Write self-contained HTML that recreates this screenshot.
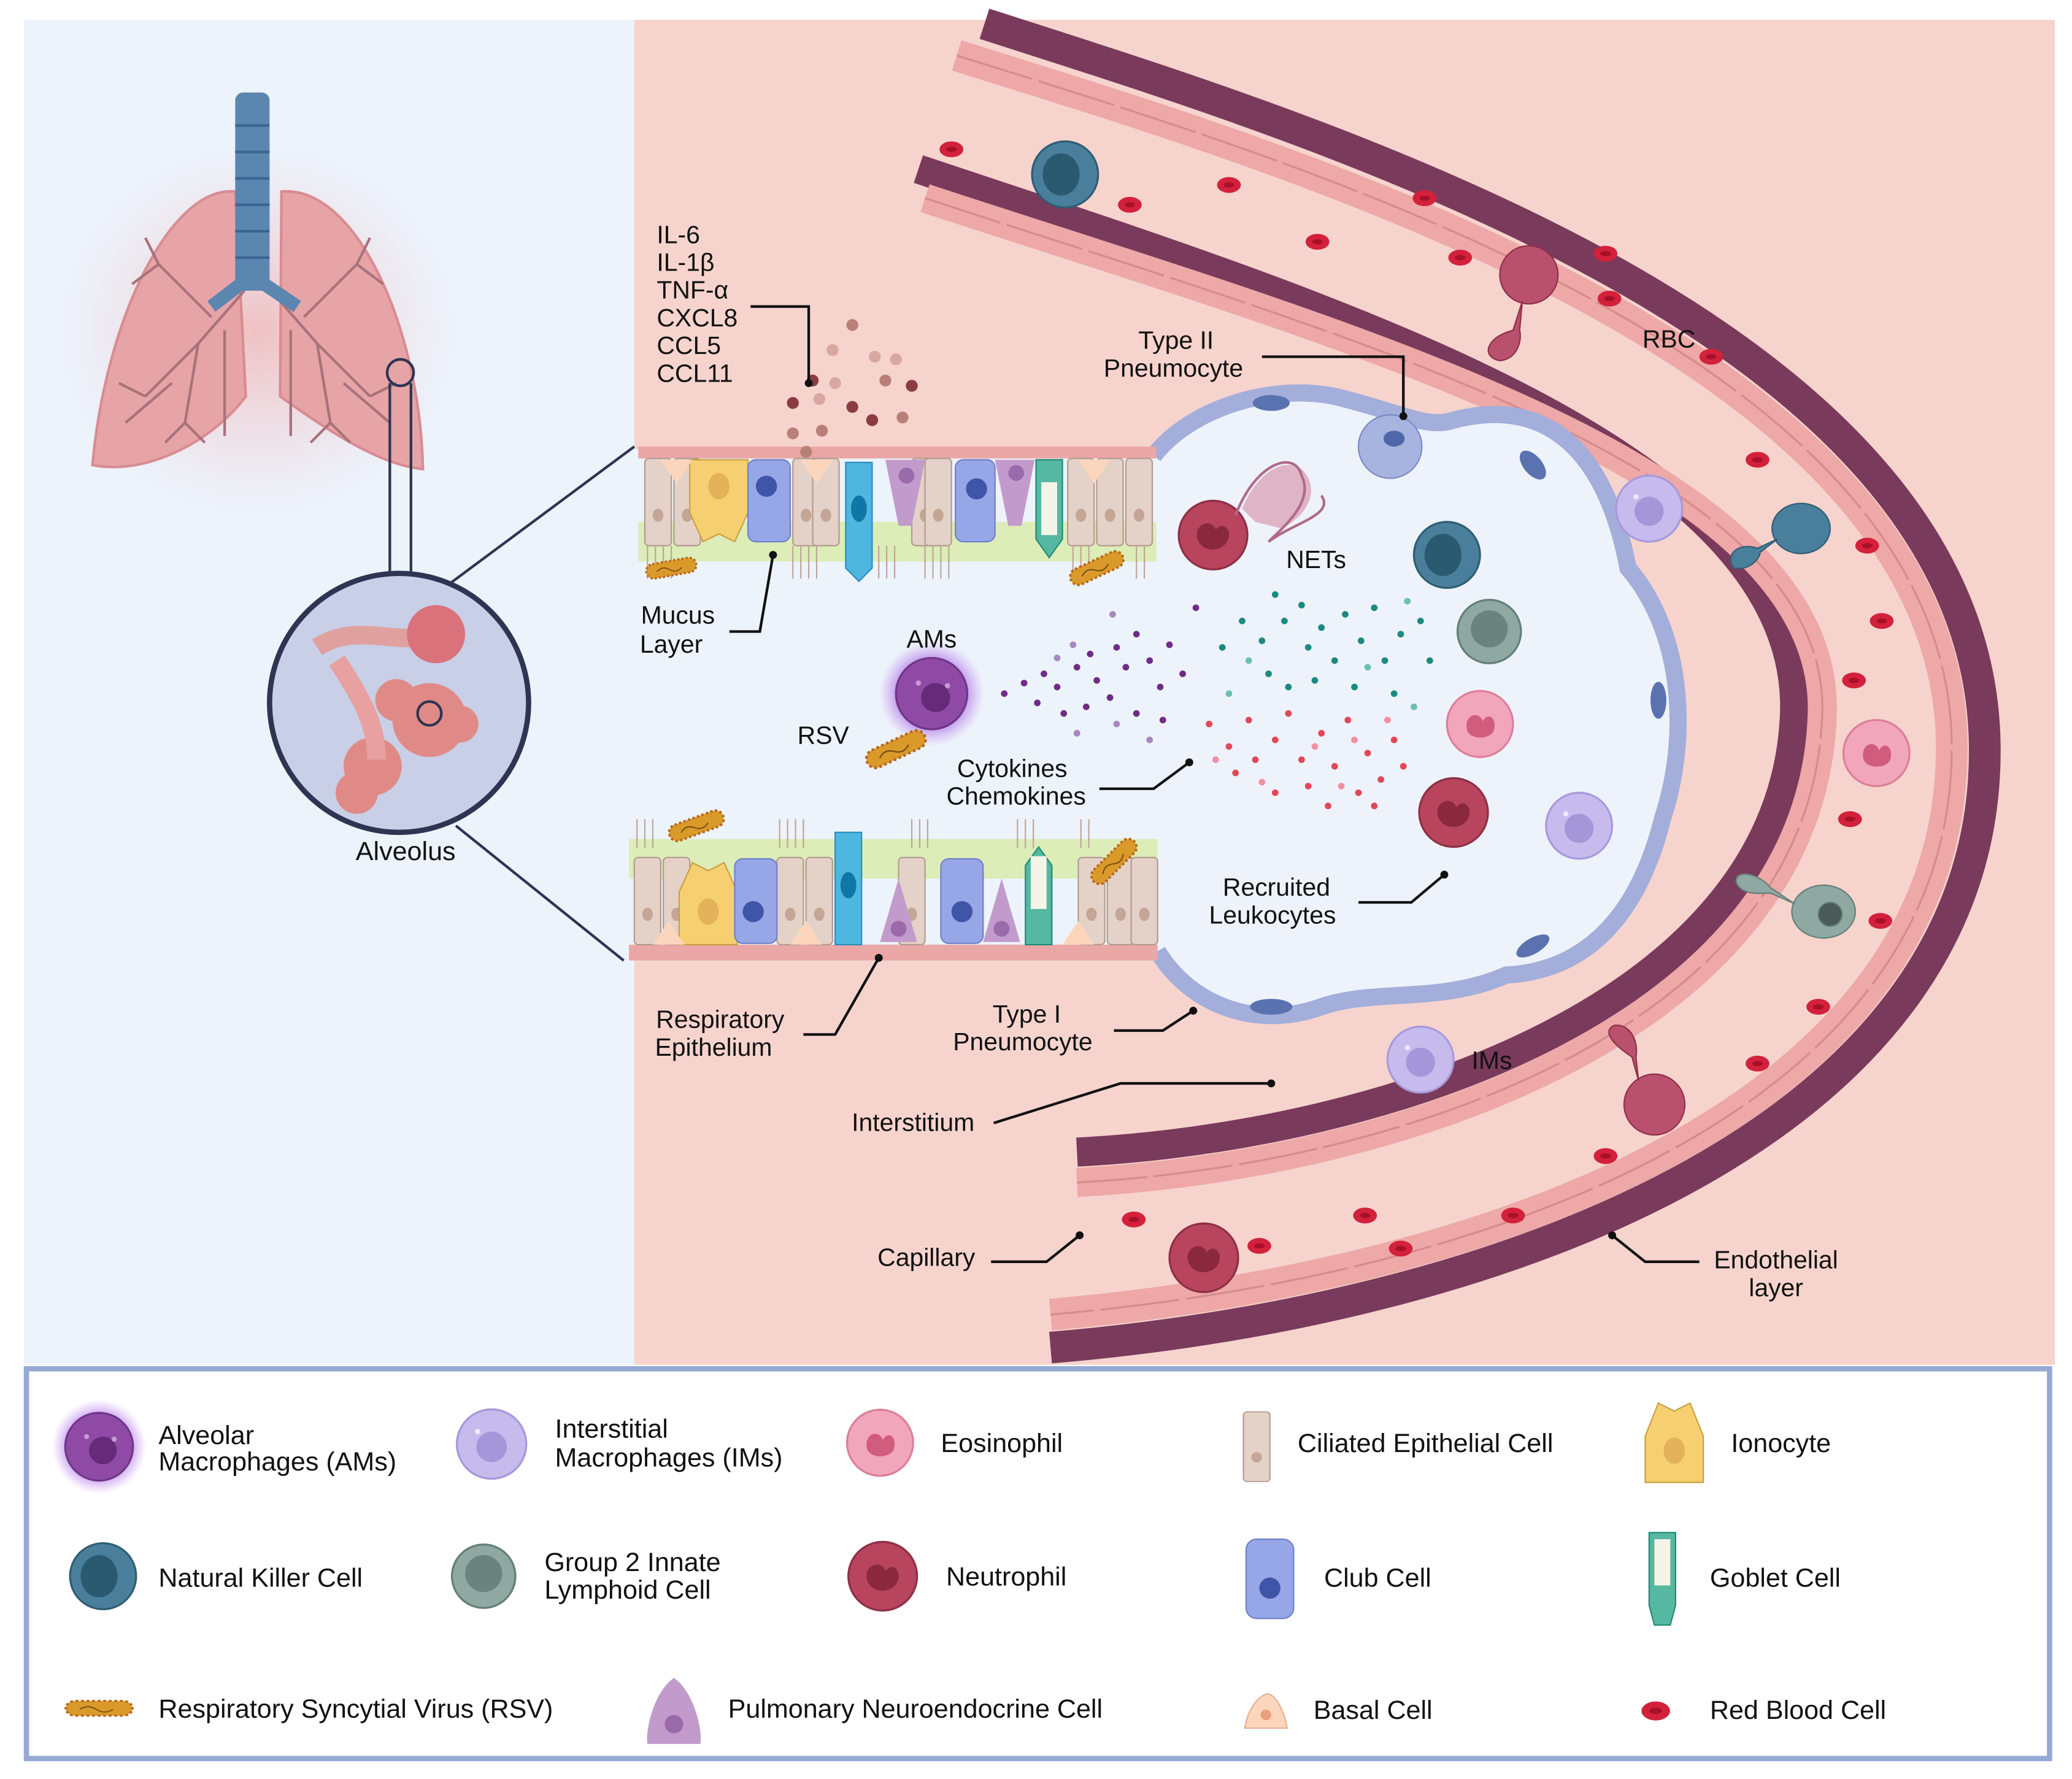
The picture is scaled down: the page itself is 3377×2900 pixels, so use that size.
<!DOCTYPE html>
<html><head><meta charset="utf-8"><style>
html,body{margin:0;padding:0;background:#fff}
svg{display:block}
text{font-family:"Liberation Sans",sans-serif;fill:#111}
</style></head><body>
<svg width="3377" height="2900" viewBox="0 0 1568 1346.5" preserveAspectRatio="none" xmlns="http://www.w3.org/2000/svg">
<defs>
<radialGradient id="glow"><stop offset="0.55" stop-color="#a45ee0" stop-opacity="0.9"/><stop offset="1" stop-color="#c89cf0" stop-opacity="0"/></radialGradient>
<radialGradient id="lg"><stop offset="0" stop-color="#f0b4b4" stop-opacity="0.8"/><stop offset="1" stop-color="#f0c8d0" stop-opacity="0"/></radialGradient>
<g id="rbc"><ellipse rx="9" ry="6" fill="#d3213c"/><ellipse rx="4" ry="2" fill="#a8102a"/></g>
<g id="am"><circle r="27" fill="#8f4aa6" stroke="#6f3588" stroke-width="1.5"/><circle cx="3" cy="3" r="11" fill="#652a7a"/><circle cx="-10" cy="-8" r="2" fill="#c89bd6"/><circle cx="12" cy="-6" r="2" fill="#c89bd6"/></g>
<g id="im"><circle r="25" fill="#c7bbee" stroke="#a899dc" stroke-width="1.5"/><circle cx="0" cy="2" r="11" fill="#a595d9"/><circle cx="-10" cy="-9" r="2" fill="#ece6ff"/></g>
<g id="nk"><circle r="25" fill="#4a7f9c" stroke="#2f5d75" stroke-width="1.5"/><ellipse cx="-3" cy="0" rx="14" ry="16" fill="#295a70"/></g>
<g id="ilc"><circle r="24" fill="#8fa8a2" stroke="#647e78" stroke-width="1.5"/><circle cx="0" cy="-2" r="14" fill="#6b837d"/></g>
<g id="eos"><circle r="25" fill="#f2a6bc" stroke="#dc7e9a" stroke-width="1.5"/><path d="M-10 4 C-12 -8 0 -10 2 -2 C6 -10 14 -4 10 6 C6 12 -8 12 -10 4Z" fill="#d05c7e"/></g>
<g id="neu"><circle r="26" fill="#b8445e" stroke="#8e2f46" stroke-width="1.5"/><path d="M-12 2 C-14 -10 0 -12 2 -4 C8 -12 16 -2 10 6 C4 14 -10 12 -12 2Z" fill="#8a2840"/></g>
<g id="rsv"><rect x="-24" y="-7" width="48" height="14" rx="7" fill="#d99a2a" stroke="#b8651e" stroke-width="2" stroke-dasharray="2 2"/><path d="M-14 1 q6 -5 12 0 t12 0" stroke="#7a4a14" fill="none" stroke-width="1"/></g>
<g id="cil"><rect x="-10" y="-33" width="20" height="66" rx="3" fill="#e4d2c8" stroke="#b29a8e" stroke-width="1"/><ellipse cx="0" cy="10" rx="4" ry="5" fill="#c4a696"/></g>
</defs>
<rect x="0" y="0" width="1568" height="1346.5" fill="#fff"/>
<rect x="18" y="15" width="464" height="1018" fill="#edf3fb"/>
<rect x="480" y="15" width="1075" height="1018" fill="#f6d4cd"/>

<!-- lungs -->
<ellipse cx="195" cy="250" rx="150" ry="140" fill="url(#lg)"/>
<path d="M178 145 C130 140 80 240 70 352 C110 360 160 335 186 300 Z" fill="#e7a4a6" stroke="#d88c92" stroke-width="2"/>
<path d="M213 145 C270 140 318 250 320 355 C285 352 240 320 212 300 Z" fill="#e7a4a6" stroke="#d88c92" stroke-width="2"/>
<g stroke="#a8727c" stroke-width="2" fill="none">
<path d="M185 220 L150 260 L110 300 M150 260 L140 320 M160 240 L120 200 M130 290 L95 320 M170 250 L170 330 M120 200 L110 180 M120 200 L100 215 M110 300 L90 290 M140 320 L125 335 M140 320 L155 335"/>
<path d="M205 220 L240 260 L280 300 M240 260 L250 320 M230 240 L270 200 M260 290 L295 320 M220 250 L220 330 M270 200 L280 180 M270 200 L290 215 M280 300 L300 290 M250 320 L265 335 M250 320 L235 335"/>
</g>
<rect x="178" y="70" width="26" height="150" rx="6" fill="#5b86b0"/>
<g stroke="#3c6590" stroke-width="2"><line x1="178" y1="95" x2="204" y2="95"/><line x1="178" y1="115" x2="204" y2="115"/><line x1="178" y1="135" x2="204" y2="135"/><line x1="178" y1="155" x2="204" y2="155"/><line x1="178" y1="175" x2="204" y2="175"/><line x1="178" y1="195" x2="204" y2="195"/></g>
<path d="M182 215 L160 232 M200 215 L225 232" stroke="#5b86b0" stroke-width="10"/>
<circle cx="303" cy="282" r="10" fill="none" stroke="#2e3553" stroke-width="2"/>
<line x1="295" y1="290" x2="295" y2="436" stroke="#2e3553" stroke-width="2"/>
<line x1="311" y1="290" x2="311" y2="436" stroke="#2e3553" stroke-width="2"/>
<line x1="340" y1="442" x2="480" y2="338" stroke="#2e3553" stroke-width="2"/>
<line x1="345" y1="625" x2="472" y2="727" stroke="#2e3553" stroke-width="2"/>
<circle cx="302" cy="532" r="98" fill="#c9cfe6" stroke="#2e3553" stroke-width="4"/>
<path d="M240 490 C270 470 300 490 330 480" stroke="#e0a0a0" stroke-width="14" fill="none"/>
<circle cx="330" cy="480" r="22" fill="#d9727a"/>
<circle cx="325" cy="545" r="28" fill="#e08a88"/><circle cx="300" cy="530" r="16" fill="#e08a88"/><circle cx="348" cy="548" r="14" fill="#e08a88"/>
<circle cx="282" cy="580" r="22" fill="#e08a88"/><circle cx="270" cy="600" r="16" fill="#e08a88"/>
<path d="M255 500 C275 530 285 550 285 575" stroke="#e8a0a0" stroke-width="14" fill="none"/>
<circle cx="325" cy="540" r="9" fill="none" stroke="#2e3553" stroke-width="2"/>
<text x="307" y="651" font-size="20" text-anchor="middle">Alveolus</text>

<!-- blood vessel -->
<path d="M745 18 C1000 100 1500 250 1502 566 C1504 850 1150 990 795 1020" stroke="#7a3a5c" stroke-width="24" fill="none"/>
<path d="M724 42 C980 122 1477 268 1477 566 C1477 835 1140 965 795 995" stroke="#eda8a7" stroke-width="24" fill="none"/>
<path d="M724 42 C980 122 1477 268 1477 566 C1477 835 1140 965 795 995" stroke="#d88a8c" stroke-width="1.5" fill="none" stroke-dasharray="60 5"/>
<path d="M695 128 C1000 230 1365 340 1358 540 C1350 760 1050 860 815 872" stroke="#7a3a5c" stroke-width="22" fill="none"/>
<path d="M700 150 C1010 252 1385 352 1379 540 C1372 777 1060 882 815 895" stroke="#eda8a7" stroke-width="22" fill="none"/>
<path d="M700 150 C1010 252 1385 352 1379 540 C1372 777 1060 882 815 895" stroke="#d88a8c" stroke-width="1.5" fill="none" stroke-dasharray="60 5"/>

<!-- airway light region -->
<rect x="480" y="340" width="400" height="387" fill="#edf3fb"/>
<path d="M873 345 C900 310 960 290 1010 300 C1060 312 1080 325 1100 318 C1170 300 1215 340 1232 430 C1275 480 1278 560 1258 620 C1238 700 1195 735 1140 738 C1090 760 1040 748 1000 762 C950 780 900 760 876 720 Z" fill="#eef3fb"/>
<path d="M873 345 C900 310 960 290 1010 300 C1060 312 1080 325 1100 318 C1170 300 1215 340 1232 430 C1275 480 1278 560 1258 620 C1238 700 1195 735 1140 738 C1090 760 1040 748 1000 762 C950 780 900 760 876 720" fill="none" stroke="#a3aedb" stroke-width="13"/>
<g fill="#5a72b0"><ellipse cx="962" cy="305" rx="14" ry="6"/><ellipse cx="1160" cy="352" rx="7" ry="13" transform="rotate(-40 1160 352)"/><ellipse cx="1255" cy="530" rx="6" ry="14"/><ellipse cx="1160" cy="716" rx="14" ry="6" transform="rotate(-30 1160 716)"/><ellipse cx="962" cy="762" rx="16" ry="6"/></g>

<!-- top epithelium -->
<rect x="483" y="338" width="392" height="9" fill="#eaa7a6"/>
<rect x="483" y="395" width="392" height="30" fill="#dcedb8"/>
<g>
<use href="#cil" x="498" y="380"/><use href="#cil" x="520" y="380"/><use href="#cil" x="610" y="380"/><use href="#cil" x="625" y="380"/><use href="#cil" x="700" y="380"/><use href="#cil" x="710" y="380"/><use href="#cil" x="818" y="380"/><use href="#cil" x="840" y="380"/><use href="#cil" x="862" y="380"/>
<path d="M522 348 h44 v40 l-10 22 l-12 -6 l-12 6 l-10 -22 Z" fill="#f6d070" stroke="#c8a040" stroke-width="1"/><ellipse cx="544" cy="368" rx="8" ry="10" fill="#e3b25a"/>
<rect x="566" y="348" width="32" height="62" rx="6" fill="#97a6e6" stroke="#6f80c8"/><circle cx="580" cy="368" r="8" fill="#3f55a8"/>
<rect x="723" y="348" width="30" height="62" rx="6" fill="#97a6e6" stroke="#6f80c8"/><circle cx="739" cy="370" r="8" fill="#3f55a8"/>
<path d="M640 350 h20 v80 l-10 10 l-10 -10Z" fill="#4fb6e0" stroke="#2a8cc0"/><ellipse cx="650" cy="385" rx="6" ry="10" fill="#0f76a6"/>
<path d="M670 348 h30 l-10 50 h-10Z" fill="#c29bcc"/><circle cx="686" cy="360" r="6" fill="#9b6aab"/>
<path d="M753 348 h30 l-10 50 h-10Z" fill="#c29bcc"/><circle cx="769" cy="358" r="6" fill="#9b6aab"/>
<path d="M784 348 h20 v60 l-10 14 l-10 -14Z" fill="#56b8a0" stroke="#1f8a78"/><rect x="788" y="365" width="12" height="40" fill="#f4f4e8"/>
<path d="M500 348 h24 l-12 18Z" fill="#fcd6bc"/><path d="M606 348 h24 l-12 18Z" fill="#fcd6bc"/><path d="M816 348 h24 l-12 18Z" fill="#fcd6bc"/>
</g>
<g stroke="#c0a498" stroke-width="1">
<path d="M490 413 v25 M496 413 v25 M502 413 v25 M508 413 v25 M600 413 v25 M606 413 v25 M612 413 v25 M618 413 v25 M665 413 v25 M671 413 v25 M677 413 v25 M700 413 v25 M706 413 v25 M712 413 v25 M718 413 v25 M812 413 v25 M818 413 v25 M824 413 v25 M860 413 v25 M866 413 v25"/>
</g>
<use href="#rsv" transform="translate(508 430) rotate(-10) scale(0.8)"/>
<use href="#rsv" transform="translate(830 430) rotate(-25) scale(0.9)"/>

<!-- bottom epithelium -->
<rect x="476" y="635" width="400" height="30" fill="#dcedb8"/>
<rect x="476" y="715" width="400" height="12" fill="#eaa7a6"/>
<g>
<use href="#cil" x="490" y="682"/><use href="#cil" x="512" y="682"/><use href="#cil" x="598" y="682"/><use href="#cil" x="620" y="682"/><use href="#cil" x="690" y="682"/><use href="#cil" x="826" y="682"/><use href="#cil" x="848" y="682"/><use href="#cil" x="866" y="682"/>
<path d="M514 715 h44 v-40 l-10 -22 l-12 6 l-12 -6 l-10 22 Z" fill="#f6d070" stroke="#c8a040"/><ellipse cx="536" cy="690" rx="8" ry="10" fill="#e3b25a"/>
<rect x="556" y="650" width="32" height="64" rx="6" fill="#97a6e6" stroke="#6f80c8"/><circle cx="570" cy="690" r="8" fill="#3f55a8"/>
<rect x="712" y="650" width="32" height="64" rx="6" fill="#97a6e6" stroke="#6f80c8"/><circle cx="728" cy="690" r="8" fill="#3f55a8"/>
<path d="M632 630 h20 v85 h-20Z" fill="#4fb6e0" stroke="#2a8cc0"/><ellipse cx="642" cy="670" rx="6" ry="10" fill="#0f76a6"/>
<path d="M680 665 l14 48 h-28Z" fill="#c29bcc"/><circle cx="680" cy="703" r="6" fill="#9b6aab"/>
<path d="M758 665 l14 48 h-28Z" fill="#c29bcc"/><circle cx="758" cy="703" r="6" fill="#9b6aab"/>
<path d="M776 715 h20 v-60 l-10 -14 l-10 14Z" fill="#56b8a0" stroke="#1f8a78"/><rect x="780" y="648" width="12" height="40" fill="#f4f4e8"/>
<path d="M494 715 h24 l-12 -18Z" fill="#fcd6bc"/><path d="M598 715 h24 l-12 -18Z" fill="#fcd6bc"/><path d="M804 715 h24 l-12 -18Z" fill="#fcd6bc"/>
</g>
<g stroke="#c0a498" stroke-width="1"><path d="M482 620 v22 M488 620 v22 M494 620 v22 M590 620 v22 M596 620 v22 M602 620 v22 M608 620 v22 M690 620 v22 M696 620 v22 M702 620 v22 M770 620 v22 M776 620 v22 M782 620 v22 M818 620 v22 M824 620 v22"/></g>
<use href="#rsv" transform="translate(527 625) rotate(-20) scale(0.9)"/>
<use href="#rsv" transform="translate(843 652) rotate(-45) scale(0.9)"/>

<!-- top cytokines -->
<g fill="#8a3c42"><circle cx="645" cy="246" r="4.5" fill="#b88078"/><circle cx="630" cy="265" r="4.5" fill="#d8a8a0"/><circle cx="662" cy="270" r="4.5" fill="#d8a8a0"/><circle cx="678" cy="272" r="4.5" fill="#d8a8a0"/><circle cx="615" cy="288" r="4.5"/><circle cx="632" cy="290" r="4.5" fill="#d8a8a0"/><circle cx="670" cy="288" r="4.5" fill="#b88078"/><circle cx="690" cy="292" r="4.5"/><circle cx="600" cy="305" r="4.5"/><circle cx="620" cy="302" r="4.5" fill="#d8a8a0"/><circle cx="645" cy="308" r="4.5"/><circle cx="660" cy="318" r="4.5"/><circle cx="683" cy="316" r="4.5" fill="#b88078"/><circle cx="600" cy="328" r="4.5" fill="#b88078"/><circle cx="622" cy="326" r="4.5" fill="#b88078"/><circle cx="610" cy="342" r="4.5" fill="#b88078"/></g>

<!-- cytokine dots -->
<g fill="#6e2c86"><circle cx="760" cy="525" r="2.5"/><circle cx="775" cy="517" r="2.5"/><circle cx="790" cy="510" r="2.5"/><circle cx="800" cy="520" r="2.5"/><circle cx="815" cy="505" r="2.5"/><circle cx="825" cy="495" r="2.5"/><circle cx="830" cy="515" r="2.5"/><circle cx="845" cy="490" r="2.5"/><circle cx="852" cy="505" r="2.5"/><circle cx="860" cy="480" r="2.5"/><circle cx="870" cy="500" r="2.5"/><circle cx="878" cy="520" r="2.5"/><circle cx="885" cy="488" r="2.5"/><circle cx="895" cy="510" r="2.5"/><circle cx="785" cy="532" r="2.5"/><circle cx="805" cy="540" r="2.5"/><circle cx="822" cy="535" r="2.5"/><circle cx="840" cy="528" r="2.5"/><circle cx="860" cy="540" r="2.5"/><circle cx="880" cy="545" r="2.5"/><circle cx="905" cy="460" r="2.5"/><circle cx="845" cy="548" r="2.5" fill="#a788c0"/><circle cx="815" cy="555" r="2.5" fill="#a788c0"/><circle cx="842" cy="465" r="2.5" fill="#a788c0"/><circle cx="812" cy="488" r="2.5" fill="#a788c0"/><circle cx="870" cy="560" r="2.5" fill="#a788c0"/><circle cx="800" cy="498" r="2.5" fill="#a788c0"/></g>
<g fill="#1a8a80"><circle cx="925" cy="490" r="2.5"/><circle cx="940" cy="470" r="2.5"/><circle cx="955" cy="485" r="2.5"/><circle cx="965" cy="450" r="2.5"/><circle cx="972" cy="470" r="2.5"/><circle cx="985" cy="458" r="2.5"/><circle cx="990" cy="490" r="2.5"/><circle cx="1000" cy="475" r="2.5"/><circle cx="1010" cy="500" r="2.5"/><circle cx="1018" cy="465" r="2.5"/><circle cx="1030" cy="485" r="2.5"/><circle cx="1040" cy="460" r="2.5"/><circle cx="1048" cy="500" r="2.5"/><circle cx="1060" cy="480" r="2.5"/><circle cx="1075" cy="470" r="2.5"/><circle cx="1082" cy="500" r="2.5"/><circle cx="960" cy="510" r="2.5"/><circle cx="975" cy="520" r="2.5"/><circle cx="995" cy="515" r="2.5"/><circle cx="1025" cy="520" r="2.5"/><circle cx="1055" cy="525" r="2.5"/><circle cx="945" cy="500" r="2.5" fill="#6ac0b4"/><circle cx="1065" cy="455" r="2.5" fill="#6ac0b4"/><circle cx="1035" cy="505" r="2.5" fill="#6ac0b4"/><circle cx="930" cy="525" r="2.5" fill="#6ac0b4"/><circle cx="1070" cy="535" r="2.5" fill="#6ac0b4"/></g>
<g fill="#e04858"><circle cx="915" cy="548" r="2.5"/><circle cx="930" cy="565" r="2.5"/><circle cx="945" cy="545" r="2.5"/><circle cx="950" cy="575" r="2.5"/><circle cx="935" cy="585" r="2.5"/><circle cx="965" cy="560" r="2.5"/><circle cx="975" cy="540" r="2.5"/><circle cx="985" cy="575" r="2.5"/><circle cx="990" cy="595" r="2.5"/><circle cx="1000" cy="555" r="2.5"/><circle cx="1010" cy="580" r="2.5"/><circle cx="1020" cy="545" r="2.5"/><circle cx="1028" cy="600" r="2.5"/><circle cx="1035" cy="570" r="2.5"/><circle cx="1045" cy="590" r="2.5"/><circle cx="1055" cy="560" r="2.5"/><circle cx="1062" cy="580" r="2.5"/><circle cx="965" cy="600" r="2.5"/><circle cx="1005" cy="610" r="2.5"/><circle cx="1040" cy="610" r="2.5"/><circle cx="920" cy="575" r="2.5" fill="#f090a0"/><circle cx="955" cy="592" r="2.5" fill="#f090a0"/><circle cx="995" cy="565" r="2.5" fill="#f090a0"/><circle cx="1025" cy="560" r="2.5" fill="#f090a0"/><circle cx="1050" cy="545" r="2.5" fill="#f090a0"/><circle cx="1015" cy="595" r="2.5" fill="#f090a0"/></g>

<!-- cells -->
<use href="#nk" x="806" y="132"/>
<g><use href="#rbc" x="720" y="113"/><use href="#rbc" x="855" y="155"/><use href="#rbc" x="930" y="140"/><use href="#rbc" x="997" y="183"/><use href="#rbc" x="1078" y="150"/><use href="#rbc" x="1105" y="195"/><use href="#rbc" x="1218" y="226"/><use href="#rbc" x="1215" y="192"/><use href="#rbc" x="1295" y="270"/><use href="#rbc" x="1330" y="348"/><use href="#rbc" x="1413" y="413"/><use href="#rbc" x="1424" y="470"/><use href="#rbc" x="1403" y="515"/><use href="#rbc" x="1400" y="620"/><use href="#rbc" x="1423" y="697"/><use href="#rbc" x="1376" y="762"/><use href="#rbc" x="1330" y="805"/><use href="#rbc" x="1215" y="875"/><use href="#rbc" x="1145" y="920"/><use href="#rbc" x="1033" y="920"/><use href="#rbc" x="1060" y="945"/><use href="#rbc" x="953" y="943"/><use href="#rbc" x="858" y="923"/></g>
<use href="#eos" x="1420" y="570"/>
<use href="#neu" x="911" y="952"/>
<!-- transmigrating cells -->
<g fill="#b8506e" stroke="#8e2f46" stroke-width="1"><circle cx="1157" cy="208" r="22"/><path d="M1152 228 L1145 250 C1125 255 1120 270 1135 273 C1148 272 1152 258 1150 250Z"/></g>
<g fill="#b8506e" stroke="#8e2f46" stroke-width="1"><circle cx="1252" cy="836" r="23"/><path d="M1240 818 L1235 800 C1220 790 1212 780 1222 776 C1235 775 1240 790 1238 800Z"/></g>
<g fill="#4a7f9c" stroke="#2f5d75" stroke-width="1"><ellipse cx="1363" cy="400" rx="22" ry="19"/><path d="M1345 408 L1330 415 C1315 410 1305 420 1312 430 C1325 432 1332 422 1332 418Z"/></g>
<g fill="#8fa8a2" stroke="#647e78" stroke-width="1"><ellipse cx="1380" cy="690" rx="24" ry="20"/><circle cx="1385" cy="692" r="9" fill="#4a5a56"/><path d="M1358 684 L1340 672 C1330 660 1312 658 1314 668 C1318 678 1332 676 1340 676Z"/></g>
<use href="#nk" x="1095" y="420"/>
<use href="#ilc" x="1127" y="478"/>
<use href="#eos" x="1120" y="548"/>
<use href="#neu" x="1100" y="615"/>
<use href="#im" x="1195" y="625"/>
<use href="#im" x="1248" y="385"/>
<use href="#im" x="1075" y="802"/>
<g><circle cx="1052" cy="338" r="24" fill="#a8b4e0" stroke="#7888c8"/><ellipse cx="1055" cy="332" rx="8" ry="6" fill="#4f67a8"/></g>
<use href="#neu" x="918" y="405"/>
<path d="M940 385 C950 360 970 345 985 355 C1000 370 990 390 970 400 L950 395Z" fill="#d89aae" opacity="0.7"/>
<path d="M935 390 C950 350 980 340 985 360 C995 380 970 400 960 410 C980 395 1010 390 1000 375" stroke="#b06a8a" stroke-width="2" fill="none"/>
<circle cx="705" cy="525" r="40" fill="url(#glow)"/>
<use href="#am" x="705" y="525"/>
<use href="#rsv" transform="translate(678 567) rotate(-25)"/>

<!-- leaders -->
<g stroke="#111" stroke-width="2" fill="none">
<path d="M568 232 H612 V290"/><path d="M955 270 H1062 V315"/><path d="M552 478 H575 L585 420"/><path d="M832 597 H873 L900 577"/><path d="M1028 683 H1068 L1093 662"/><path d="M608 783 H632 L665 725"/><path d="M843 780 H880 L903 765"/><path d="M752 850 L848 820 H962"/><path d="M750 955 H792 L817 935"/><path d="M1286 955 H1245 L1220 935"/>
</g>
<g fill="#111"><circle cx="612" cy="290" r="3"/><circle cx="1062" cy="315" r="3"/><circle cx="585" cy="420" r="3"/><circle cx="900" cy="577" r="3"/><circle cx="1093" cy="662" r="3"/><circle cx="665" cy="725" r="3"/><circle cx="903" cy="765" r="3"/><circle cx="962" cy="820" r="3"/><circle cx="817" cy="935" r="3"/><circle cx="1220" cy="935" r="3"/></g>

<!-- labels -->
<g font-size="19">
<text x="497" y="184">IL-6</text><text x="497" y="205">IL-1β</text><text x="497" y="226">TNF-α</text><text x="497" y="247">CXCL8</text><text x="497" y="268">CCL5</text><text x="497" y="289">CCL11</text>
<text x="890" y="264" text-anchor="middle">Type II</text><text x="888" y="285" text-anchor="middle">Pneumocyte</text>
<text x="1263" y="263" text-anchor="middle">RBC</text>
<text x="996" y="430" text-anchor="middle">NETs</text>
<text x="513" y="472" text-anchor="middle">Mucus</text><text x="508" y="494" text-anchor="middle">Layer</text>
<text x="705" y="490" text-anchor="middle">AMs</text>
<text x="623" y="563" text-anchor="middle">RSV</text>
<text x="766" y="588" text-anchor="middle">Cytokines</text><text x="769" y="609" text-anchor="middle">Chemokines</text>
<text x="966" y="678" text-anchor="middle">Recruited</text><text x="963" y="699" text-anchor="middle">Leukocytes</text>
<text x="545" y="778" text-anchor="middle">Respiratory</text><text x="540" y="799" text-anchor="middle">Epithelium</text>
<text x="777" y="774" text-anchor="middle">Type I</text><text x="774" y="795" text-anchor="middle">Pneumocyte</text>
<text x="1129" y="809" text-anchor="middle">IMs</text>
<text x="691" y="856" text-anchor="middle">Interstitium</text>
<text x="701" y="958" text-anchor="middle">Capillary</text>
<text x="1344" y="960" text-anchor="middle">Endothelial</text><text x="1344" y="981" text-anchor="middle">layer</text>
</g>

<!-- legend -->
<rect x="20" y="1036" width="1531" height="295" fill="#fff" stroke="#95a9d4" stroke-width="4"/>
<circle cx="75" cy="1095" r="36" fill="url(#glow)"/>
<use href="#am" transform="translate(75 1095) scale(0.95)"/>
<use href="#im" transform="translate(372 1093) scale(1.05)"/>
<use href="#eos" x="666" y="1092"/>
<g transform="translate(951 1095) scale(1 0.8)"><rect x="-10" y="-33" width="20" height="66" rx="3" fill="#e4d2c8" stroke="#b29a8e"/><ellipse cx="0" cy="10" rx="4" ry="5" fill="#c4a696"/></g>
<path d="M1245 1122 h44 v-35 l-10 -25 l-12 6 l-12 -6 l-10 25 Z" fill="#f6d070" stroke="#c8a040"/><ellipse cx="1267" cy="1098" rx="8" ry="10" fill="#e3b25a"/>
<use href="#nk" x="78" y="1193"/>
<use href="#ilc" x="366" y="1193"/>
<use href="#neu" x="668" y="1193"/>
<rect x="943" y="1165" width="36" height="60" rx="8" fill="#97a6e6" stroke="#6f80c8"/><circle cx="961" cy="1202" r="8" fill="#3f55a8"/>
<path d="M1248 1160 h20 v55 l-4 15 h-12 l-4 -15Z" fill="#56b8a0" stroke="#1f8a78"/><rect x="1252" y="1165" width="12" height="35" fill="#f4f4e8"/>
<use href="#rsv" transform="translate(75 1293) scale(1.05 0.8)"/>
<path d="M510 1270 C525 1280 532 1310 530 1320 h-40 C488 1310 495 1280 510 1270Z" fill="#c29bcc"/><circle cx="510" cy="1305" r="7" fill="#9b6aab"/>
<path d="M942 1308 C945 1290 955 1282 960 1282 C966 1284 972 1295 974 1308Z" fill="#fcd6bc" stroke="#e4b090"/><circle cx="958" cy="1298" r="4" fill="#e8a07a"/>
<use href="#rbc" transform="translate(1253 1295) scale(1.2)"/>
<g font-size="20">
<text x="120" y="1093">Alveolar</text><text x="120" y="1113">Macrophages (AMs)</text>
<text x="420" y="1088">Interstitial</text><text x="420" y="1110">Macrophages (IMs)</text>
<text x="712" y="1099">Eosinophil</text>
<text x="982" y="1099">Ciliated Epithelial Cell</text>
<text x="1310" y="1099">Ionocyte</text>
<text x="120" y="1201">Natural Killer Cell</text>
<text x="412" y="1189">Group 2 Innate</text><text x="412" y="1210">Lymphoid Cell</text>
<text x="716" y="1200">Neutrophil</text>
<text x="1002" y="1201">Club Cell</text>
<text x="1294" y="1201">Goblet Cell</text>
<text x="120" y="1300">Respiratory Syncytial Virus (RSV)</text>
<text x="551" y="1300">Pulmonary Neuroendocrine Cell</text>
<text x="994" y="1301">Basal Cell</text>
<text x="1294" y="1301">Red Blood Cell</text>
</g>
</svg>
</body></html>
